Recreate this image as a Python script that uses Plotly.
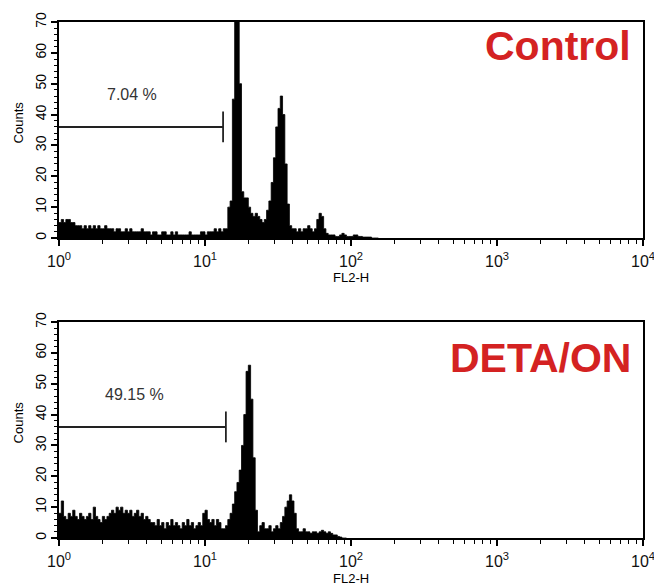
import math
import plotly.graph_objects as go

# ---- data (256-channel log histogram, 64 channels per decade) ----
CHANNELS_PER_DECADE = 64
control_counts = [
    5, 6, 5, 6, 6, 5, 5, 4, 4, 4,
    3, 4, 3, 4, 3, 4, 3, 4, 3, 3,
    4, 3, 3, 3, 2, 3, 3, 2, 2, 3,
    2, 3, 2, 2, 2, 2, 3, 2, 2, 2,
    1, 2, 2, 1, 1, 2, 2, 1, 1, 2,
    1, 2, 1, 1, 1, 1, 1, 2, 1, 1,
    1, 1, 2, 2, 1, 2, 2, 2, 3, 2,
    3, 2, 3, 3, 10, 12, 45, 80, 80, 50,
    15, 13, 13, 10, 8, 7, 8, 7, 6, 5,
    6, 9, 12, 18, 26, 36, 42, 46, 40, 24,
    11, 4, 3, 3, 2, 3, 2, 3, 3, 4,
    3, 2, 3, 6, 8, 7, 3, 1.5, 1, 1,
    1, 0.5, 0.5, 1, 1.5, 1, 0.5, 0.5, 0.5, 1,
    1, 0.5, 0.5, 0.3, 0.3, 0.3, 0.3, 0, 0, 0,
]
deta_counts = [
    8, 12, 7, 6, 8, 7, 9, 7, 6, 8,
    7, 6, 7, 8, 6, 10, 7, 6, 5, 7,
    6, 7, 8, 9, 8, 10, 9, 10, 8, 9,
    8, 9, 7, 8, 9, 7, 8, 6, 7, 6,
    5, 5, 4, 6, 4, 5, 3, 5, 4, 6,
    4, 5, 4, 3, 5, 4, 6, 4, 5, 3,
    4, 5, 4, 8, 9, 6, 5, 6, 4, 6,
    5, 3, 3, 4, 6, 8, 11, 15, 18, 22,
    30, 40, 54, 56, 45, 26, 9, 2, 4, 5,
    3, 3, 4, 2, 3, 4, 3, 5, 7, 10,
    12, 14, 12, 8, 3, 2, 2, 3, 2, 2,
    1.5, 2, 2, 1.5, 2, 2.5, 2, 1.5, 2, 1.5,
    1, 1, 0.5, 0.3, 0, 0,
]
panel_titles = ["Control", "DETA/ON"]
gate_pct = ["7.04 %", "49.15 %"]
gate_end = [13.3, 13.9]        # FL2-H value of gate right edge
gate_level = [36, 36]          # counts level of gate bar
gate_tick = [[31, 41], [31, 41]]
x_tick_vals = [1, 10, 100, 1000, 10000]
x_tick_text = ["10<sup>0</sup>", "10<sup>1</sup>", "10<sup>2</sup>", "10<sup>3</sup>", "10<sup>4</sup>"]
y_tick_vals = [0, 10, 20, 30, 40, 50, 60, 70]
x_title = "FL2-H"
y_title = "Counts"

minor_x = [k * 10 ** d for d in range(4) for k in range(2, 10)]

FONT = "Liberation Sans, Arial, sans-serif"
RED = "#d42222"

fig = go.Figure()

def hist_trace(counts, xa, ya):
    n = len(counts)
    xs = [10 ** (i / CHANNELS_PER_DECADE) for i in range(n + 1)]
    ys = list(counts) + [counts[-1]]
    return go.Scatter(x=xs, y=ys, mode="lines", line=dict(shape="hv", color="black", width=0.8),
                      fill="tozeroy", fillcolor="black", xaxis=xa, yaxis=ya,
                      showlegend=False, hoverinfo="skip")

for idx, counts in enumerate([control_counts, deta_counts]):
    xa = "x" if idx == 0 else "x2"
    ya = "y" if idx == 0 else "y2"
    fig.add_trace(hist_trace(counts, xa, ya))
    fig.add_trace(go.Scatter(x=[1, gate_end[idx]], y=[gate_level[idx]] * 2, mode="lines",
                             line=dict(color="#222", width=2), xaxis=xa, yaxis=ya,
                             showlegend=False, hoverinfo="skip"))
    fig.add_trace(go.Scatter(x=[gate_end[idx]] * 2, y=gate_tick[idx], mode="lines",
                             line=dict(color="#222", width=1.8), xaxis=xa, yaxis=ya,
                             showlegend=False, hoverinfo="skip"))

xaxis_common = dict(
    type="log", range=[0, 4], showline=True, linecolor="black", linewidth=2, mirror=True,
    showgrid=False, zeroline=False, ticks="outside", ticklen=6, tickwidth=1.5, tickcolor="black",
    tickvals=x_tick_vals, ticktext=x_tick_text, automargin=False, ticklabeloverflow="allow",
    ticklabelstandoff=2,
    tickfont=dict(family=FONT, size=16, color="#111"),
    minor=dict(tickvals=minor_x, ticks="outside", ticklen=4, tickwidth=1.3, tickcolor="black", showgrid=False),
)
yaxis_common = dict(
    range=[0, 70], showline=True, linecolor="black", linewidth=1.6, mirror=True,
    showgrid=False, zeroline=False, ticks="outside", ticklen=6, tickwidth=1.5, tickcolor="black",
    tickvals=y_tick_vals, tickangle=-90, automargin=False, ticklabeloverflow="allow",
    tickfont=dict(family=FONT, size=14, color="#000"),
    minor=dict(dtick=2, ticks="outside", ticklen=3, tickwidth=1.2, tickcolor="black", showgrid=False),
)

fig.update_layout(
    width=654, height=586,
    margin=dict(l=59, r=11, t=22, b=48),
    paper_bgcolor="white", plot_bgcolor="white",
    xaxis=dict(**xaxis_common, domain=[0, 1], anchor="y"),
    yaxis=dict(**yaxis_common, domain=[0.5814, 1], anchor="x"),
    xaxis2=dict(**xaxis_common, domain=[0, 1], anchor="y2"),
    yaxis2=dict(**yaxis_common, domain=[0, 0.4186], anchor="x2"),
)

title_y = [0.89, 0.835]
pct_pos = [(3.15, 46.5), (3.3, 46.5)]
for idx in range(2):
    sfx = "" if idx == 0 else "2"
    fig.add_annotation(text=panel_titles[idx], xref="x" + sfx + " domain", yref="y" + sfx + " domain",
                       x=0.983, y=title_y[idx], xanchor="right", yanchor="middle", showarrow=False,
                       font=dict(family=FONT, size=41, color=RED, weight="bold"))
    fig.add_annotation(text=gate_pct[idx], xref="x" + sfx, yref="y" + sfx,
                       x=math.log10(pct_pos[idx][0]), y=pct_pos[idx][1], showarrow=False,
                       xanchor="center", yanchor="middle",
                       font=dict(family=FONT, size=16, color="#333"))
    fig.add_annotation(text=x_title, xref="x" + sfx + " domain", yref="y" + sfx + " domain",
                       x=0.5, y=0, yshift=-40, xanchor="center", yanchor="middle", showarrow=False,
                       font=dict(family=FONT, size=13, color="#000"))
    fig.add_annotation(text=y_title, xref="x" + sfx + " domain", yref="y" + sfx + " domain",
                       x=0, xshift=-41, y=0.535, textangle=-90, xanchor="center", yanchor="middle",
                       showarrow=False, font=dict(family=FONT, size=13, color="#000"))

fig.write_html("out.html", config={"displayModeBar": False},
               post_script="document.body.style.margin='0px';document.body.style.overflow='hidden';")
